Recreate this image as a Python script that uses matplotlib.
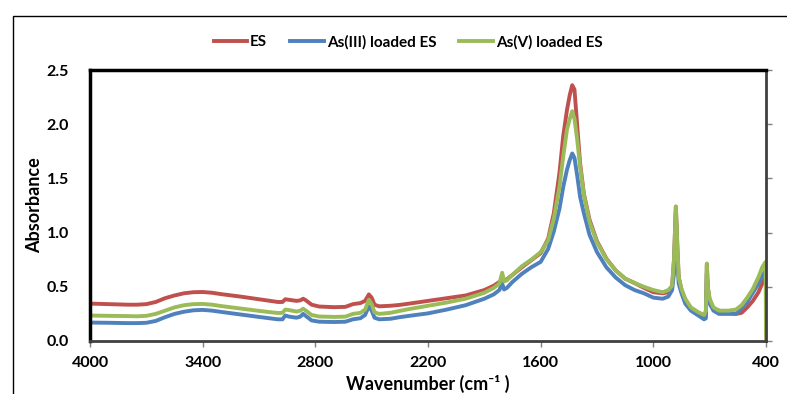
import matplotlib
matplotlib.use("Agg")
import matplotlib.pyplot as plt
from matplotlib.patches import Rectangle

plt.rcParams["font.family"] = ["Lato", "DejaVu Sans"]
plt.rcParams["font.weight"] = "bold"

# wavenumber (cm-1), descending
wavenumber = [4000, 3900, 3800, 3750, 3700, 3650, 3600, 3550, 3500, 3450,
              3400, 3350, 3300, 3200, 3100, 3000, 2975, 2960, 2940, 2900,
              2880, 2865, 2850, 2820, 2780, 2700, 2640, 2600, 2560, 2535,
              2515, 2500, 2485, 2460, 2400, 2350, 2300, 2200, 2100, 2000,
              1900, 1850, 1820, 1805, 1795, 1780, 1750, 1700, 1650, 1600,
              1560, 1530, 1500, 1480, 1460, 1445, 1432, 1420, 1405, 1390,
              1370, 1340, 1300, 1250, 1200, 1150, 1100, 1050, 1000, 950,
              920, 900, 890, 880, 872, 865, 850, 830, 800, 760,
              730, 720, 715, 710, 700, 680, 650, 600, 560, 530,
              500, 470, 440, 420, 402, 400]

es = [0.345, 0.34, 0.335, 0.335, 0.34, 0.36, 0.395, 0.42, 0.44, 0.45,
      0.452, 0.445, 0.432, 0.41, 0.385, 0.36, 0.36, 0.385, 0.38, 0.37,
      0.375, 0.39, 0.375, 0.335, 0.318, 0.312, 0.315, 0.34, 0.35, 0.37,
      0.43, 0.40, 0.335, 0.32, 0.325, 0.333, 0.345, 0.37, 0.395, 0.42,
      0.47, 0.51, 0.545, 0.56, 0.555, 0.57, 0.61, 0.68, 0.745, 0.81,
      0.945, 1.18, 1.55, 1.89, 2.13, 2.27, 2.36, 2.32, 1.98, 1.64,
      1.36, 1.12, 0.92, 0.76, 0.65, 0.575, 0.535, 0.49, 0.45, 0.44,
      0.45, 0.50, 0.75, 1.24, 0.87, 0.59, 0.47, 0.375, 0.30, 0.26,
      0.23, 0.25, 0.70, 0.50, 0.375, 0.30, 0.28, 0.26, 0.25, 0.26,
      0.31, 0.37, 0.45, 0.53, 0.59, 0.59]

as3 = [0.17, 0.168, 0.165, 0.165, 0.168, 0.185, 0.22, 0.25, 0.27, 0.283,
       0.287, 0.28, 0.268, 0.245, 0.222, 0.20, 0.20, 0.235, 0.225, 0.215,
       0.225, 0.25, 0.23, 0.19, 0.178, 0.175, 0.178, 0.20, 0.21, 0.24,
       0.32, 0.28, 0.215, 0.20, 0.205, 0.22, 0.232, 0.255, 0.29, 0.33,
       0.39, 0.43, 0.47, 0.53, 0.475, 0.49, 0.545, 0.62, 0.68, 0.73,
       0.85, 1.01, 1.22, 1.42, 1.58, 1.67, 1.73, 1.69, 1.52, 1.33,
       1.18, 0.98, 0.82, 0.68, 0.585, 0.515, 0.47, 0.44, 0.40, 0.39,
       0.41, 0.47, 0.62, 1.18, 0.75, 0.53, 0.44, 0.345, 0.28, 0.235,
       0.20, 0.21, 0.62, 0.44, 0.345, 0.28, 0.25, 0.25, 0.25, 0.30,
       0.36, 0.445, 0.53, 0.60, 0.65, 0.65]

as5 = [0.235, 0.232, 0.23, 0.228, 0.232, 0.25, 0.28, 0.31, 0.33, 0.34,
       0.342, 0.335, 0.322, 0.30, 0.278, 0.258, 0.26, 0.29, 0.285, 0.272,
       0.28, 0.298, 0.28, 0.24, 0.226, 0.222, 0.225, 0.25, 0.26, 0.29,
       0.38, 0.34, 0.265, 0.25, 0.26, 0.278, 0.295, 0.325, 0.355, 0.39,
       0.445, 0.49, 0.53, 0.63, 0.55, 0.56, 0.61, 0.69, 0.75, 0.82,
       0.93, 1.13, 1.42, 1.70, 1.95, 2.05, 2.12, 2.05, 1.85, 1.61,
       1.35, 1.10, 0.91, 0.755, 0.65, 0.575, 0.535, 0.50, 0.47, 0.45,
       0.47, 0.51, 0.75, 1.24, 0.87, 0.59, 0.48, 0.39, 0.31, 0.265,
       0.24, 0.28, 0.715, 0.50, 0.39, 0.31, 0.28, 0.28, 0.29, 0.33,
       0.40, 0.48, 0.59, 0.68, 0.73, 0.0]

fig = plt.figure(figsize=(7.87, 3.94), dpi=100)
ax = fig.add_axes([90 / 787, 1 - 341 / 394, 676 / 787, 271 / 394])

# outer chart border
fig.patches.append(Rectangle((13 / 787, -0.1), 1.2, 1 - 16 / 394 + 0.1,
                             transform=fig.transFigure, fill=False,
                             edgecolor="black", linewidth=1.0))

ax.plot(wavenumber, es, color="#C0504D", lw=2.8, label="ES")
ax.plot(wavenumber, as3, color="#4F81BD", lw=2.8, label="As(III) loaded ES")
ax.plot(wavenumber, as5, color="#9BBB59", lw=2.8, label="As(V) loaded ES")

ax.set_xlim(4000, 400)
ax.set_ylim(0, 2.5)
ax.set_xticks([4000, 3400, 2800, 2200, 1600, 1000, 400])
ax.set_yticks([0, 0.5, 1.0, 1.5, 2.0, 2.5])
ax.set_yticklabels(["0.0", "0.5", "1.0", "1.5", "2.0", "2.5"])

ax.spines["left"].set_linewidth(2.5)
ax.spines["left"].set_color("black")
ax.spines["top"].set_linewidth(2.5)
ax.spines["top"].set_color("black")
ax.spines["bottom"].set_linewidth(2.0)
ax.spines["bottom"].set_color("#404040")
ax.spines["right"].set_linewidth(2.0)
ax.spines["right"].set_color("#404040")

ax.tick_params(axis="y", left=False, right=True, labelleft=True,
               direction="out", length=4, color="#808080", width=1,
               labelsize=11.5, pad=11)
ax.tick_params(axis="x", direction="out", length=4, color="#808080",
               width=1, labelsize=11.5, pad=7)

ax.set_xlabel("Wavenumber (cm⁻¹ )", fontsize=13, fontweight="bold",
              labelpad=3)
ax.set_ylabel("Absorbance", fontsize=13, fontweight="bold", labelpad=3)

fig.legend(loc="center", bbox_to_anchor=(408 / 787, 1 - 42 / 394), ncol=3,
           frameon=False, handlelength=2.2, handletextpad=0.2,
           columnspacing=1.5, prop={"weight": "bold", "size": 11})

fig.savefig("out.png", dpi=100)
